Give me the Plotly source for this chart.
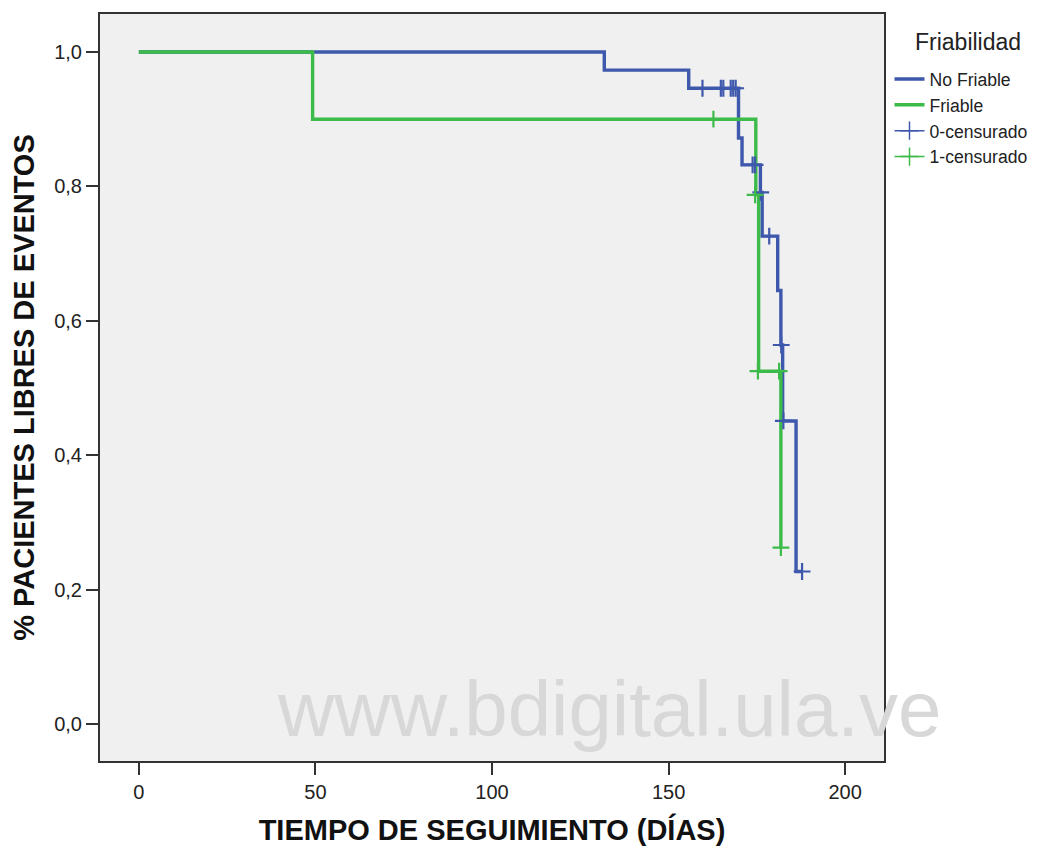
import plotly.graph_objects as go

# ---- data ----
# Kaplan-Meier steps: time of event (days) and survival after it
nf_event_t = [0, 131.8, 155.7, 169.8, 170.8, 176.0, 176.5, 180.9, 181.8, 182.3, 186.1]
nf_event_s = [1.0, 0.973, 0.946, 0.872, 0.832, 0.791, 0.726, 0.645, 0.564, 0.451, 0.227]
nf_cens_t = [159.6, 164.8, 165.5, 167.6, 168.3, 169.0, 173.8, 174.5, 176.1, 178.5, 181.9, 182.5, 187.8]
nf_cens_s = [0.946, 0.946, 0.946, 0.946, 0.946, 0.946, 0.832, 0.832, 0.791, 0.726, 0.564, 0.451, 0.227]

fr_event_t = [0, 49.2, 174.7, 175.5, 181.8]
fr_event_s = [1.0, 0.90, 0.7875, 0.525, 0.2625]
fr_cens_t = [162.7, 174.5, 175.3, 181.3, 181.8]
fr_cens_s = [0.90, 0.7875, 0.525, 0.525, 0.2625]

x_ticks = [0, 50, 100, 150, 200]
y_ticks = [0.0, 0.2, 0.4, 0.6, 0.8, 1.0]
y_tick_text = ["0,0", "0,2", "0,4", "0,6", "0,8", "1,0"]

legend_title = "Friabilidad"
series_names = ["No Friable", "Friable"]
censor_names = ["0-censurado", "1-censurado"]

BLUE = "#3E58AC"
GREEN = "#3DBB4A"

def extend(t, s, ct):
    t2, s2 = list(t), list(s)
    last = max(max(t), max(ct))
    if last > t2[-1]:
        t2.append(last)
        s2.append(s2[-1])
    return t2, s2

fig = go.Figure()

for (et, es, ct, cs, col, nm, rk) in [
    (nf_event_t, nf_event_s, nf_cens_t, nf_cens_s, BLUE, series_names[0], 1),
    (fr_event_t, fr_event_s, fr_cens_t, fr_cens_s, GREEN, series_names[1], 2),
]:
    xs, ys = extend(et, es, ct)
    fig.add_trace(go.Scatter(x=xs, y=ys, mode="lines", line=dict(color=col, width=3.4, shape="hv"),
                             name=nm, showlegend=True, legendrank=rk))
for (ct, cs, col, cn, rk) in [
    (nf_cens_t, nf_cens_s, BLUE, censor_names[0], 3),
    (fr_cens_t, fr_cens_s, GREEN, censor_names[1], 4),
]:
    fig.add_trace(go.Scatter(x=ct, y=cs, mode="markers",
                             marker=dict(symbol="cross-thin", size=12, line=dict(color=col, width=2.2)),
                             showlegend=False, name=cn))
    # legend entry (line + cross)
    fig.add_trace(go.Scatter(x=[None], y=[None], mode="lines+markers",
                             line=dict(color=col, width=1.5),
                             marker=dict(symbol="cross-thin", size=13, line=dict(color=col, width=1.5)),
                             name=cn, showlegend=True, legendrank=rk))

FONT = "Liberation Sans, Arial, sans-serif"

# the page adds an 8px body margin, so the figure is 8px smaller on each axis
W, H = 1044, 838
fig.update_layout(
    width=W, height=H,
    margin=dict(l=92, r=168, t=6, b=85, autoexpand=False),
    paper_bgcolor="white",
    plot_bgcolor="#F0F0F0",
    font=dict(family=FONT, color="#222"),
    showlegend=True,
    legend=dict(
        xref="container", yref="container", x=881.5 / W, y=1 - 53 / H, xanchor="left", yanchor="top",
        font=dict(size=17.6, family=FONT, color="#222"),
        bgcolor="rgba(0,0,0,0)", itemwidth=30, tracegroupgap=0,
    ),
    xaxis=dict(
        range=[-11, 211], tickvals=x_ticks, ticktext=[str(v) for v in x_ticks],
        ticks="outside", ticklen=12, tickwidth=2, tickcolor="#333",
        showline=True, linecolor="#333", linewidth=2, mirror=True,
        showgrid=False, zeroline=False, automargin=False,
        tickfont=dict(family=FONT, size=20, color="#222"),
        title=dict(text="<b>TIEMPO DE SEGUIMIENTO (DÍAS)</b>", font=dict(family=FONT, size=29, color="#111"), standoff=19),
    ),
    yaxis=dict(
        range=[-0.055, 1.0565], tickvals=y_ticks, ticktext=y_tick_text,
        ticks="outside", ticklen=12, tickwidth=2, tickcolor="#333",
        showline=True, linecolor="#333", linewidth=2, mirror=True,
        showgrid=False, zeroline=False, automargin=False,
        tickfont=dict(family=FONT, size=20, color="#222"),
        title=dict(text="<b>% PACIENTES LIBRES DE EVENTOS</b>", font=dict(family=FONT, size=29, color="#111"), standoff=14),
    ),
)

fig.add_annotation(
    text=legend_title, xref="paper", yref="paper",
    x=(960 - 92) / 784, y=(753 - 34) / 747, xanchor="center", yanchor="middle", showarrow=False,
    font=dict(family=FONT, size=23, color="#222"),
)

fig.add_annotation(
    text="www.bdigital.ula.ve", xref="paper", yref="paper",
    x=(601 - 92) / 784, y=(753 - 701) / 747, xanchor="center", yanchor="middle", showarrow=False,
    font=dict(family=FONT, size=78, color="#D8D8D8"),
)

fig.write_html("out.html")
